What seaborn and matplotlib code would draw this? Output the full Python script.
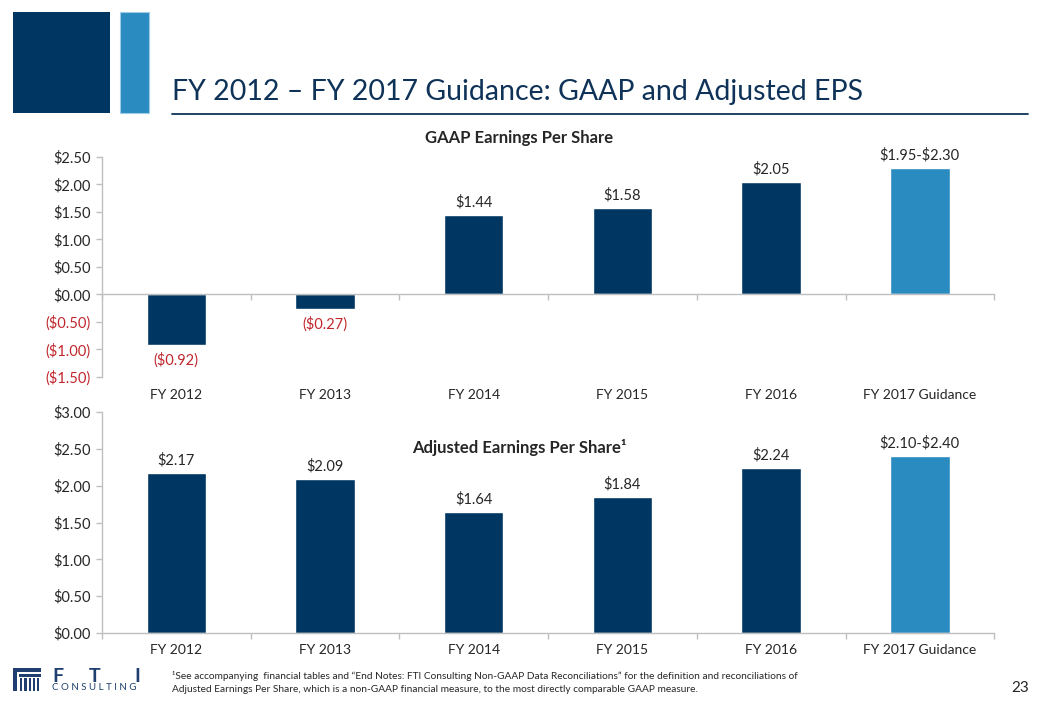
import matplotlib
matplotlib.use("Agg")
import matplotlib.pyplot as plt
import seaborn as sns
import pandas as pd
from matplotlib.patches import Rectangle
from matplotlib.lines import Line2D
from matplotlib.ticker import FixedLocator

# ---------------- data ----------------
categories = ["FY 2012", "FY 2013", "FY 2014", "FY 2015", "FY 2016", "FY 2017 Guidance"]
gaap_values = [-0.92, -0.27, 1.44, 1.58, 2.05, 2.30]
gaap_labels = ["($0.92)", "($0.27)", "$1.44", "$1.58", "$2.05", "$1.95-$2.30"]
adj_values = [2.17, 2.09, 1.64, 1.84, 2.24, 2.40]
adj_labels = ["$2.17", "$2.09", "$1.64", "$1.84", "$2.24", "$2.10-$2.40"]
gaap_ticks = [2.5, 2.0, 1.5, 1.0, 0.5, 0.0, -0.5, -1.0, -1.5]
gaap_ticklabels = ["$2.50", "$2.00", "$1.50", "$1.00", "$0.50", "$0.00", "($0.50)", "($1.00)", "($1.50)"]
adj_ticks = [3.0, 2.5, 2.0, 1.5, 1.0, 0.5, 0.0]
adj_ticklabels = ["$3.00", "$2.50", "$2.00", "$1.50", "$1.00", "$0.50", "$0.00"]

NAVY = "#003762"
LIGHT = "#2A8BC1"
RED = "#C0272D"
GRAY = "#BFBFBF"
TITLE_C = "#0F3358"
TEXT_C = "#262626"


def esc(s):
    return s.replace("$", r"\$")


sns.set_theme(style="white")
plt.rcParams["font.family"] = ["Lato", "DejaVu Sans"]

palette = {c: (LIGHT if "Guidance" in c else NAVY) for c in categories}

fig = plt.figure(figsize=(10.4, 7.2), dpi=100)

ax1 = fig.add_axes([0.098, 0.4764, 0.858, 0.3056])
ax2 = fig.add_axes([0.098, 0.1208, 0.858, 0.307])

df1 = pd.DataFrame({"cat": categories, "val": gaap_values})
df2 = pd.DataFrame({"cat": categories, "val": adj_values})

sns.barplot(data=df1, x="cat", y="val", hue="cat", palette=palette, order=categories,
            hue_order=categories, legend=False, width=0.4, ax=ax1, saturation=1)
sns.barplot(data=df2, x="cat", y="val", hue="cat", palette=palette, order=categories,
            hue_order=categories, legend=False, width=0.4, ax=ax2, saturation=1)

for ax, ticks, tlabels, lo, hi in [(ax1, gaap_ticks, gaap_ticklabels, -1.5, 2.5),
                                   (ax2, adj_ticks, adj_ticklabels, 0.0, 3.0)]:
    ax.set_xlim(-0.5, 5.5)
    ax.set_ylim(lo, hi)
    ax.set_xlabel("")
    ax.set_ylabel("")
    ax.set_yticks(ticks)
    ax.set_yticklabels([esc(t) for t in tlabels])
    for s in ["top", "right"]:
        ax.spines[s].set_visible(False)
    for s in ["left", "bottom"]:
        ax.spines[s].set_color(GRAY)
        ax.spines[s].set_linewidth(1.0)
    ax.tick_params(axis="y", which="major", left=True, length=4, width=1, color=GRAY,
                   labelsize=10.5, labelcolor=TEXT_C, pad=4)
    for t, v in zip(ax.get_yticklabels(), ticks):
        if v < 0:
            t.set_color(RED)
    ax.xaxis.set_minor_locator(FixedLocator([i - 0.5 for i in range(7)]))
    ax.tick_params(axis="x", which="minor", bottom=True, length=4, width=1, color=GRAY)
    ax.tick_params(axis="x", which="major", bottom=False, length=0)
    ax.set_facecolor("white")

# top chart: axis line at zero, labels below plot area
ax1.spines["bottom"].set_position(("data", 0))
ax1.tick_params(axis="x", which="major", labelbottom=False)
for i, c in enumerate(categories):
    ax1.text(i, -0.055, c, transform=ax1.get_xaxis_transform(), ha="center", va="top",
             fontsize=10, color=TEXT_C)
ax2.tick_params(axis="x", which="major", labelsize=10, labelcolor=TEXT_C, pad=8)

# value labels
for i, (v, lab) in enumerate(zip(gaap_values, gaap_labels)):
    if v < 0:
        ax1.annotate(esc(lab), (i, v), xytext=(0, -5), textcoords="offset points", ha="center",
                     va="top", fontsize=10.5, color=RED)
    else:
        ax1.annotate(esc(lab), (i, v), xytext=(0, 4), textcoords="offset points", ha="center",
                     va="bottom", fontsize=10.5, color=TEXT_C)
for i, (v, lab) in enumerate(zip(adj_values, adj_labels)):
    ax2.annotate(esc(lab), (i, v), xytext=(0, 4), textcoords="offset points", ha="center",
                 va="bottom", fontsize=10.5, color=TEXT_C)

# chart titles
fig.text(0.499, 1 - 138 / 720, "GAAP Earnings Per Share", ha="center", va="center",
         fontsize=12, fontweight="bold", color=TEXT_C)
fig.text(0.499, 1 - 448 / 720, "Adjusted Earnings Per Share\u00b9", ha="center", va="center",
         fontsize=12, fontweight="bold", color=TEXT_C)

# slide header
fig.add_artist(Rectangle((13 / 1040, 1 - 113 / 720), 97 / 1040, 101 / 720,
                         transform=fig.transFigure, facecolor=NAVY, edgecolor="none"))
fig.add_artist(Rectangle((120 / 1040, 1 - 113 / 720), 29 / 1040, 101 / 720,
                         transform=fig.transFigure, facecolor=LIGHT, edgecolor="#9CCBE6", lw=0.8))
fig.text(172 / 1040, 1 - 92 / 720, "FY 2012 \u2013 FY 2017 Guidance: GAAP and Adjusted EPS",
         ha="left", va="center", fontsize=20.5, color=TITLE_C)
fig.add_artist(Line2D([172 / 1040, 1028 / 1040], [1 - 114 / 720, 1 - 114 / 720],
                      transform=fig.transFigure, color=TITLE_C, lw=1.3))

# footnote
fig.text(172 / 1040, 1 - 676 / 720,
         "\u00b9See accompanying  financial tables and \u201cEnd Notes: FTI Consulting Non-GAAP Data Reconciliations\u201d for the definition and reconciliations of",
         ha="left", va="center", fontsize=7.3, color=TEXT_C)
fig.text(172 / 1040, 1 - 690 / 720,
         "Adjusted Earnings Per Share, which is a non-GAAP financial measure, to the most directly comparable GAAP measure.",
         ha="left", va="center", fontsize=7.3, color=TEXT_C)
fig.text(1020 / 1040, 1 - 688 / 720, "23", ha="center", va="center", fontsize=11, color=TEXT_C)

# logo
LOGO = "#1E3F6F"


def frect(x, y, w, h, color=LOGO):
    fig.add_artist(Rectangle((x / 1040, 1 - (y + h) / 720), w / 1040, h / 720,
                             transform=fig.transFigure, facecolor=color, edgecolor="none"))


frect(13, 668, 28, 4)
frect(13, 668, 4, 23)
frect(19, 674, 22, 2.5)
for k in range(5):
    frect(20 + k * 4.3, 678, 2.2, 13)
for xl, letter in [(52, "F"), (89, "T"), (134, "I")]:
    fig.text(xl / 1040, 1 - 676 / 720, letter, ha="left", va="center", fontsize=14,
             fontweight="bold", color=LOGO)
fig.text(52 / 1040, 1 - 688 / 720, "C O N S U L T I N G", ha="left", va="center",
         fontsize=7, color=LOGO)

fig.savefig("out.png", dpi=100)
